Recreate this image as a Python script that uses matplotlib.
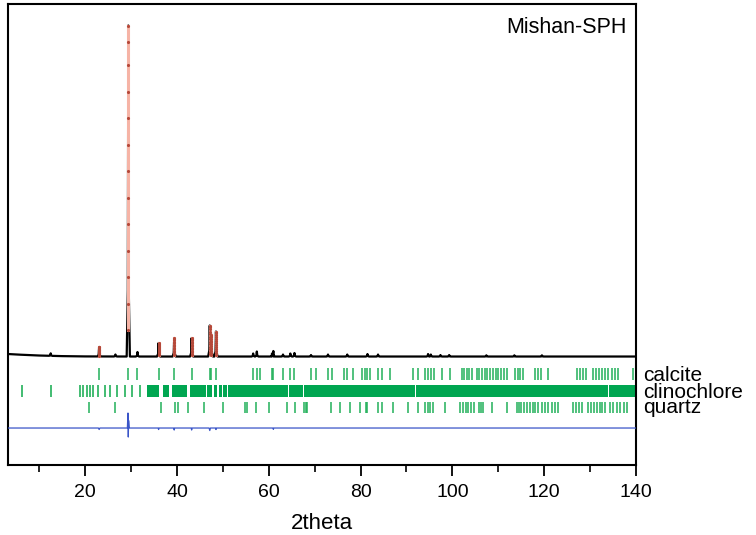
import numpy as np
import matplotlib
matplotlib.use('Agg')
from matplotlib import pyplot as plt
from matplotlib.ticker import MultipleLocator

# Bragg peaks of the observed pattern (2theta, height above background)
peak_pos = [12.5, 23.05, 26.6, 29.4, 31.4, 36.0, 39.4, 43.2, 47.15, 47.5, 48.5,
            56.6, 57.4, 60.7, 61.0, 63.1, 64.7, 65.6, 69.2, 72.9, 77.1, 81.5,
            83.8, 94.7, 95.3, 97.4, 99.3, 107.4, 113.5, 119.5]
peak_obs = [2.5, 9.5, 2.0, 331.0, 4.5, 13.5, 18.5, 18.5, 31.0, 22.0, 25.0,
            3.0, 5.0, 3.0, 5.5, 2.0, 3.0, 3.5, 1.5, 2.0, 2.0, 2.5,
            2.0, 2.5, 2.0, 1.5, 1.5, 1.2, 1.2, 1.2]

# background of the pattern
bg_pos = [3.2, 6.0, 10.0, 15.0, 20.0, 30.0, 140.0]
bg_int = [2.5, 1.8, 1.0, 0.4, 0.1, 0.0, 0.0]

# difference curve (obs - calc)
diff_pos = [3.2, 22.9, 23.05, 23.2, 29.2, 29.33, 29.4, 29.47, 29.6,
            35.9, 36.0, 36.1, 39.3, 39.4, 39.5, 43.1, 43.2, 43.3,
            47.0, 47.15, 47.3, 48.4, 48.5, 48.6, 60.9, 61.0, 61.1, 140.0]
diff_val = [-71.5, -71.5, -73.0, -71.5, -71.5, -56.5, -80.5, -64.0, -71.5,
            -71.5, -73.0, -71.5, -71.5, -73.5, -71.5, -71.5, -73.5, -71.5,
            -71.5, -74.0, -71.5, -71.5, -73.0, -71.5, -71.5, -72.8, -71.5, -71.5]

# reflection positions
calcite = [23.05, 29.4, 31.4, 36.0, 39.4, 43.2, 47.1, 47.5, 48.5, 56.6, 57.4, 58.1,
           60.7, 61.0, 63.1, 64.7, 65.6, 69.2, 70.2, 72.9, 73.7, 76.3, 77.1, 78.4,
           80.3, 81.0, 81.5, 82.1, 83.8, 84.6, 86.4, 91.5, 92.6, 94.0, 94.6, 95.3,
           95.9, 97.7, 99.5, 102.0, 102.6, 103.2, 103.7, 104.2, 105.3, 105.8, 106.4,
           107.0, 107.6, 108.2, 108.9, 109.5, 110.0, 110.6, 111.2, 111.8, 113.6,
           114.2, 114.8, 115.4, 118.0, 118.7, 119.4, 120.9, 127.1, 127.8, 128.5,
           129.2, 130.7, 131.3, 131.9, 132.6, 133.3, 134.0, 134.8, 135.5, 136.1, 139.4]
clino = [6.2, 12.5, 18.9, 19.6, 20.4, 21.1, 21.8, 22.9, 24.4, 25.4, 26.9, 28.7,
         30.2, 32.0]
clino_bands = [(33.4, 2.6), (37.0, 1.2), (39.0, 3.1), (42.8, 3.6), (46.6, 1.0),
               (48.0, 0.8), (49.1, 0.7), (50.1, 0.7), (51.1, 13.1), (64.3, 3.2),
               (67.6, 24.35), (92.05, 41.9), (134.05, 6.0)]
quartz = [20.9, 26.6, 36.6, 39.5, 40.3, 42.5, 45.8, 50.1, 54.9, 55.3, 57.2, 60.0,
          64.0, 65.8, 67.7, 68.1, 68.3, 73.5, 75.6, 77.7, 79.9, 81.2, 81.5, 83.8,
          84.6, 87.0, 90.4, 92.6, 94.0, 94.6, 95.2, 95.8, 98.4, 101.7, 102.3, 103.0,
          103.5, 104.0, 104.6, 105.7, 106.2, 106.7, 108.6, 111.8, 114.0, 114.5,
          115.0, 115.5, 116.2, 116.8, 117.5, 118.1, 118.7, 119.5, 120.2, 120.9,
          121.6, 122.3, 123.1, 126.3, 126.9, 127.6, 128.2, 129.6, 130.2, 130.8,
          131.4, 132.1, 132.6, 133.2, 134.3, 135.0, 135.8, 136.5, 137.3, 138.0]

# peak shape used to draw each reflection
shape_dx = [-0.35, -0.1, 0.0, 0.1, 0.35]
shape_fr = [0.0, 0.2, 1.0, 0.2, 0.0]
# fractions of the peak height where observed points sit
obs_fr = [0.08, 0.16, 0.24, 0.32, 0.4, 0.48, 0.56, 0.64, 0.72, 0.8, 0.88, 0.95, 1.0]

xs = list(bg_pos)
for p in peak_pos:
    xs += [p + d for d in shape_dx]
xs = np.array(sorted(xs))
calc = np.interp(xs, bg_pos, bg_int)
for p, h in zip(peak_pos, peak_obs):
    for d, f in zip(shape_dx, shape_fr):
        calc[np.isclose(xs, p + d)] += h * f

fig = plt.figure(figsize=(7.56, 5.35), dpi=100)
ax = fig.add_axes([0.0106, 0.1308, 0.8307, 0.8617])

ax.plot(xs, calc, color='black', lw=1.6, zorder=3)

# observed points on the peaks
for p, h in zip(peak_pos, peak_obs):
    if h < 8:
        continue
    b = np.interp(p, bg_pos, bg_int)
    oy = [b + h * f for f in obs_fr]
    ax.plot([p] * len(oy), oy, color='#f6b4a6', lw=2.2, zorder=4)
    ax.plot([p] * len(oy), oy, ls='none', marker='.', ms=2.5,
            color='#b5493a', zorder=5)

ax.plot(diff_pos, diff_val, color='#3a55c8', lw=0.9, zorder=3)

green = '#00a651'
ax.vlines(calcite, -23.5, -11.5, color='#22b05a', lw=1.1)
ax.vlines(clino, -40.5, -28.5, color='#22b05a', lw=1.2)
ax.broken_barh(clino_bands, (-40.5, 12.0), facecolor=green, edgecolor='none')
ax.vlines(quartz, -56.5, -45.5, color='#22b05a', lw=1.1)

lab_font = ['Liberation Sans', 'DejaVu Sans']
trans = ax.get_yaxis_transform()
ax.text(1.012, -24.5, 'calcite', transform=trans, fontsize=15, family=lab_font,
        va='baseline', ha='left')
ax.text(1.012, -41.5, 'clinochlore', transform=trans, fontsize=15, family=lab_font,
        va='baseline', ha='left')
ax.text(1.012, -56.5, 'quartz', transform=trans, fontsize=15, family=lab_font,
        va='baseline', ha='left')
ax.text(0.9857, 0.937, 'Mishan-SPH', transform=ax.transAxes, fontsize=15.5,
        family=lab_font, ha='right', va='baseline')

ax.set_xlim(3.2, 140)
ax.set_ylim(-108.5, 352.5)
ax.set_yticks([])
ax.xaxis.set_major_locator(MultipleLocator(20))
ax.xaxis.set_minor_locator(MultipleLocator(10))
ax.tick_params(axis='x', which='major', direction='out', length=8, width=1.3,
               labelsize=14, pad=6)
ax.tick_params(axis='x', which='minor', direction='out', length=5, width=1.2)
narrow = ['Liberation Sans Narrow', 'Liberation Sans', 'DejaVu Sans']
for t in ax.get_xticklabels():
    t.set_family(narrow)
ax.set_xlabel('2theta', fontsize=16, family=narrow, labelpad=8)
for s in ax.spines.values():
    s.set_linewidth(1.5)

fig.savefig('out.png', dpi=100)
